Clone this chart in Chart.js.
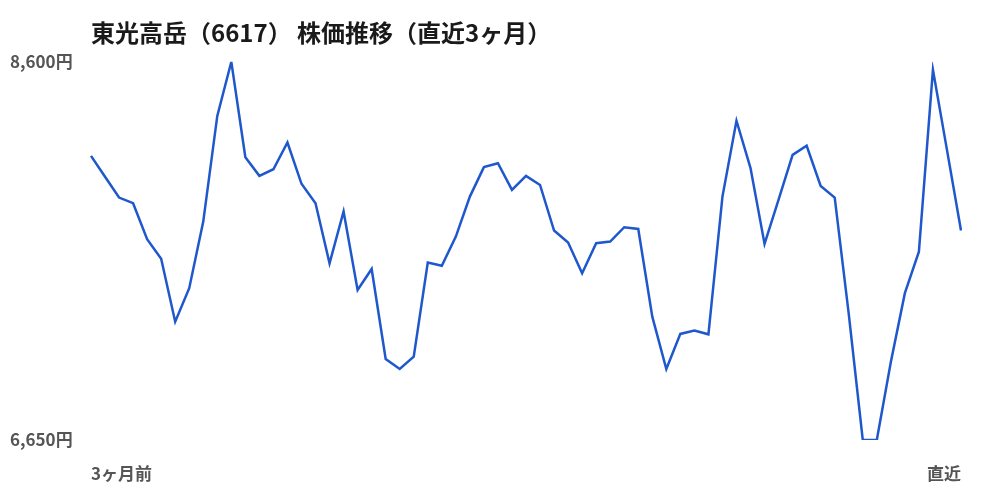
<!DOCTYPE html>
<html lang="ja">
<head>
<meta charset="UTF-8">
<title>東光高岳（6617） 株価推移</title>
<style>
  html, body { margin:0; padding:0; background:#fff; }
  .wrap { width:1000px; height:500px; position:relative; }
</style>
</head>
<body>
<div class="wrap"><canvas id="chart" width="1000" height="500"></canvas></div>

<script src="https://cdn.jsdelivr.net/npm/chart.js"></script>
<script>
// 終値（直近3ヶ月・日足、目視読み取り）
const prices = [
  8115, 8007, 7900, 7871, 7685, 7584, 7260, 7433, 7776, 8321,
  8600, 8108, 8012, 8046, 8184, 7971, 7871, 7561, 7828, 7424,
  7532, 7068, 7016, 7080, 7565, 7548, 7699, 7905, 8057, 8077,
  7940, 8012, 7965, 7730, 7668, 7510, 7665, 7673, 7747, 7738,
  7286, 7016, 7197, 7214, 7195, 7905, 8296, 8052, 7661, 7890,
  8120, 8167, 7960, 7900, 7300, 6650, 6650, 7052, 7407, 7621,
  8559, 8146, 7730
];
const days = prices.map((_, i) => i);
const edgeLabels = ['3ヶ月前', '直近'];
const yTicks = [6650, 8600];

const font = '"Noto Sans CJK JP", "Noto Sans", sans-serif';

new Chart(document.getElementById('chart'), {
  type: 'line',
  data: {
    labels: days,
    datasets: [{
      data: prices,
      borderColor: '#1f57cc',
      borderWidth: 2.5,
      pointRadius: 0,
      tension: 0,
      fill: false
    }]
  },
  options: {
    responsive: false,
    animation: false,
    layout: { padding: { left: 10, right: 39, top: 0, bottom: 17 } },
    plugins: {
      legend: { display: false },
      tooltip: { enabled: false },
      title: {
        display: true,
        text: '東光高岳（6617） 株価推移（直近3ヶ月）',
        align: 'start',
        fullSize: false,
        color: '#1a1a1a',
        font: { family: font, size: 24, weight: 'bold' },
        padding: { top: 18, bottom: 15 }
      }
    },
    scales: {
      x: {
        type: 'category',
        grid: { display: false, drawTicks: false },
        border: { display: false },
        afterFit: s => { s.height = 43; },
        ticks: {
          autoSkip: false,
          maxRotation: 0,
          align: 'inner',
          padding: 23,
          color: '#555',
          font: { family: font, size: 17, weight: 'bold' },
          callback: (v, i, t) => i === 0 ? edgeLabels[0] : (i === t.length - 1 ? edgeLabels[1] : null)
        }
      },
      y: {
        min: yTicks[0],
        max: yTicks[1],
        grid: { display: false, drawTicks: false },
        border: { display: false },
        afterBuildTicks: s => { s.ticks = yTicks.map(v => ({ value: v })); },
        afterFit: s => { s.width = 81; },
        ticks: {
          crossAlign: 'far',
          padding: 0,
          color: '#555',
          font: { family: font, size: 17, weight: 'bold' },
          callback: v => v.toLocaleString('ja-JP') + '円'
        }
      }
    }
  }
});
</script>
</body>
</html>
